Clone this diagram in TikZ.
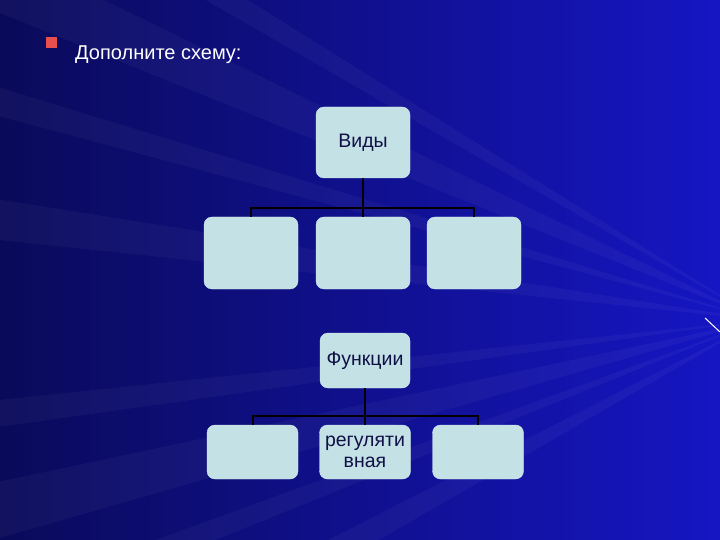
\documentclass[tikz,border=0pt]{standalone}
\usepackage{fontspec}
\setmainfont{Liberation Sans}
\usetikzlibrary{positioning,calc}
\tikzset{>=stealth}
\definecolor{bgdark}{RGB}{10,10,90}
\definecolor{bglight}{RGB}{22,22,195}
\definecolor{boxfill}{RGB}{196,225,230}
\definecolor{boxtext}{RGB}{16,16,70}
\definecolor{bullet}{RGB}{232,80,80}
\tikzset{
  box/.style={draw=boxfill!70!white,fill=boxfill,rounded corners=8pt,
    text=boxtext,font=\fontsize{19.5}{21}\selectfont,align=center,inner sep=2pt},
  link/.style={draw=black,line width=2pt},
  ray/.style={fill=white,opacity=0.035}
}

\begin{document}
\begin{tikzpicture}[x=1pt,y=-1pt]
\useasboundingbox (0,0) rectangle (720,540);
% Background
\shade[left color=bgdark,right color=bglight] (0,0) rectangle (720,540);
\coordinate (f) at (760,320);
\foreach \a/\b in {150/153,158/160,164/168,172/174,186/189,195/197,202/206,210/212}
  \fill[ray] (f) -- ($(f)+(\a:900)$) -- ($(f)+(\b:900)$) -- cycle;
\draw[white,line width=1pt] (705,318) -- (720,332);

% Title line
\fill[bullet] (46,37) rectangle (57,48);
\node[anchor=base west,text=white,font=\fontsize{20}{22}\selectfont,inner sep=0pt]
  (title) at (75,60) {Дополните схему:};

% First scheme
\node[box,minimum width=94pt,minimum height=71pt] (vidy) at (363,142.5) {Виды};
\node[box,minimum width=94pt,minimum height=72pt] (v1) at (251,253) {};
\node[box,minimum width=94pt,minimum height=72pt] (v2) at (363,253) {};
\node[box,minimum width=94pt,minimum height=72pt] (v3) at (474,253) {};
\coordinate (j1) at (363,208);
\draw[link] (vidy) -- (j1);
\draw[link] (j1) -| (v1);
\draw[link] (j1) -- (v2);
\draw[link] (j1) -| (v3);

% Second scheme
\node[box,minimum width=90pt,minimum height=55pt] (funk) at (365,360.5) {Функции};
\node[box,minimum width=91pt,minimum height=54pt] (f1) at (252.5,452) {};
\node[box,minimum width=91pt,minimum height=54pt] (f2) at (365,452) {регуляти\\вная};
\node[box,minimum width=91pt,minimum height=54pt] (f3) at (478,452) {};
\coordinate (j2) at (365,416);
\draw[link] (funk) -- (j2);
\draw[link] (j2) -| (f1);
\draw[link] (j2) -- (f2);
\draw[link] (j2) -| (f3);
\end{tikzpicture}
\end{document}
